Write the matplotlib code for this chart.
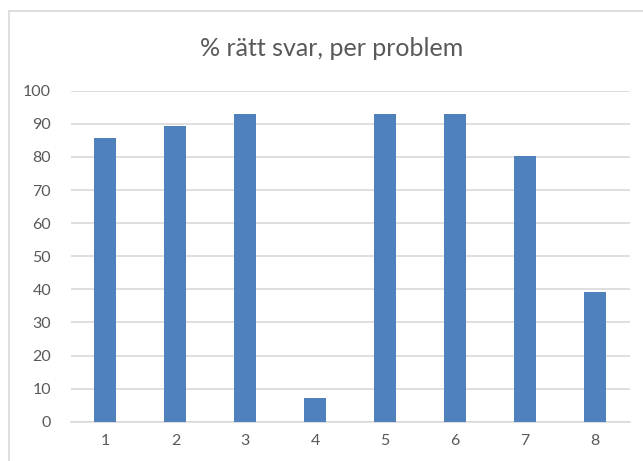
import matplotlib.pyplot as plt
from matplotlib.patches import Rectangle
import numpy as np

problems = ['1', '2', '3', '4', '5', '6', '7', '8']
pct_right = [85.7, 89.3, 92.9, 7.1, 92.9, 92.9, 80.4, 39.3]
yticks = [0, 10, 20, 30, 40, 50, 60, 70, 80, 90, 100]

plt.rcParams['font.family'] = ['Lato', 'DejaVu Sans']

W, H = 643, 461
fig = plt.figure(figsize=(W / 100, H / 100), dpi=100)

# chart frame (runs off right and bottom edges like the screenshot)
fig.patches.append(Rectangle((9 / W, -0.1), 1.2, 1 - 10.7 / H + 0.1,
                             transform=fig.transFigure, fill=False,
                             edgecolor='#d9d9d9', linewidth=1.2))

ax = fig.add_axes([70.5 / W, 1 - 421.7 / H, (630 - 70.5) / W, (421.7 - 90.7) / H])

x = np.arange(len(problems))
ax.bar(x, pct_right, width=0.315, color='#4f81bd', zorder=3)

ax.set_xlim(-0.5, len(problems) - 0.5)
ax.set_ylim(0, 100)
ax.set_yticks(yticks)
ax.set_xticks(x)
ax.set_xticklabels(problems)
ax.yaxis.grid(True, color='#d9d9d9', linewidth=1.2, zorder=0)

for s in ['top', 'right', 'left']:
    ax.spines[s].set_visible(False)
ax.spines['bottom'].set_color('#d9d9d9')
ax.spines['bottom'].set_linewidth(1.2)
ax.tick_params(axis='both', length=0, labelsize=11.5, colors='#595959')
ax.tick_params(axis='y', pad=14)
ax.tick_params(axis='x', pad=9)

fig.text(332 / W, 1 - 48 / H, '% rätt svar, per problem', ha='center', va='center',
         fontsize=18, color='#595959')

fig.savefig('out.png', dpi=100)
